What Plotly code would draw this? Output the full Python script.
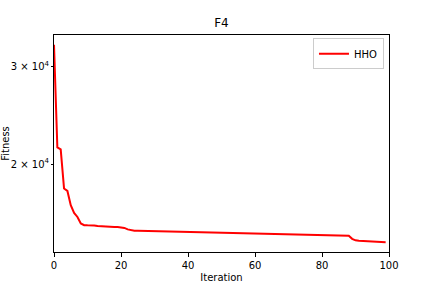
import plotly.graph_objects as go
import math

iterations = list(range(100))
fitness = [
    32880, 21450, 21270, 18070, 17890, 16850, 16320, 16050, 15620, 15510,
    15500, 15500, 15490, 15450, 15430, 15420, 15400, 15390, 15390, 15390,
    15370, 15330, 15240, 15180, 15160, 15160, 15155, 15150, 15150, 15145,
    15140, 15140, 15135, 15130, 15130, 15125, 15120, 15120, 15115, 15110,
    15100, 15095, 15090, 15085, 15080, 15075, 15070, 15065, 15060, 15050,
    15040, 15030, 15020, 15010, 15000, 14995, 14990, 14980, 14970, 14965,
    14960, 14955, 14950, 14950, 14948, 14945, 14945, 14943, 14940, 14940,
    14938, 14935, 14930, 14925, 14920, 14915, 14910, 14905, 14900, 14890,
    14880, 14875, 14870, 14865, 14860, 14855, 14850, 14845, 14840, 14650,
    14560, 14530, 14520, 14520, 14520, 14520, 14515, 14480, 14460, 14450,
]
series_name = "HHO"
y_tickvals = [20000, 30000]
y_ticktext = ["2 × 10<sup>4</sup>", "3 × 10<sup>4</sup>"]
x_tickvals = [0, 20, 40, 60, 80, 100]

lo, hi = math.log10(min(fitness)), math.log10(max(fitness))
pad = (hi - lo) * 0.05

fig = go.Figure()
fig.add_trace(go.Scatter(x=iterations, y=fitness, mode="lines", name=series_name,
                         line=dict(color="#ff0000", width=2)))

font = dict(family="DejaVu Sans", size=10, color="black")
fig.update_layout(
    width=432, height=288,
    margin=dict(l=54, r=43, t=35, b=36, autoexpand=False),
    paper_bgcolor="white", plot_bgcolor="white",
    font=font,
    title=dict(text="F4", x=0.5, xref="paper", xanchor="center", y=1, yref="container",
               yanchor="top", pad=dict(t=19), font=dict(family="DejaVu Sans", size=12, color="black")),
    showlegend=True,
    legend=dict(x=0.985, y=0.985, xanchor="right", yanchor="top",
                bordercolor="#cccccc", borderwidth=1, bgcolor="white",
                font=dict(family="DejaVu Sans", size=10, color="black"),
                itemwidth=30, tracegroupgap=0),
    xaxis=dict(range=[0, 100], tickvals=x_tickvals, showgrid=False, zeroline=False,
               automargin=False,
               showline=True, linecolor="black", linewidth=1, mirror=True,
               ticks="outside", ticklen=3.5, tickwidth=1, tickcolor="black",
               title=dict(text="Iteration", standoff=4, font=font)),
    yaxis=dict(type="log", range=[lo - pad, hi + pad], tickvals=y_tickvals, ticktext=y_ticktext,
               showgrid=False, zeroline=False, automargin=False,
               showline=True, linecolor="black", linewidth=1, mirror=True,
               ticks="outside", ticklen=2, tickwidth=0.8, tickcolor="black",
               title=dict(text="Fitness", standoff=6, font=font)),
)
fig.write_html("out.html")
